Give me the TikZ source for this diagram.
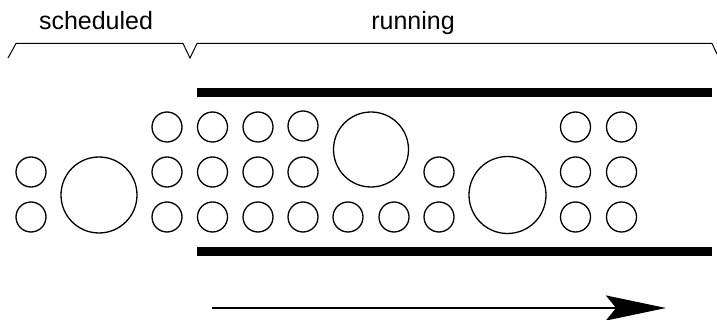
\documentclass[tikz,border=0pt]{standalone}
\usepackage{fontspec}
\setmainfont{Liberation Sans}
\usetikzlibrary{arrows.meta}
\begin{document}
\begin{tikzpicture}[x=1pt,y=-1pt,line join=miter]
  \useasboundingbox (0,0) rectangle (717,320);
  \coordinate (S) at (212,308);
  \coordinate (E) at (666,308);
  \draw[line width=1pt] (8,58) -- (16,43.5) -- (183,43.5) -- (190,58) -- (197,43.5) -- (712,43.5) -- (719,58);
  \node[anchor=base,inner sep=0pt,font=\fontsize{25}{30}\selectfont] (sched) at (96,30) {scheduled};
  \node[anchor=base,inner sep=0pt,font=\fontsize{25}{30}\selectfont] (run) at (413,30) {running};
  \fill (197,88) rectangle (712,97);
  \fill (197,247) rectangle (712,256);
  \foreach \x/\y in {31/172,31/217,
      167/127,167/172,167/217,212.5/127,212.5/172,212.5/217,
      258/127,258/172,258/217,303/126,303/172,303/217,
      348/217,394/217,439/172,439/217,
      575.5/127,575.5/172,575.5/217,621.5/127,621.5/172,621.5/217}
    \draw[line width=1.3pt] (\x,\y) circle (15pt);
  \draw[line width=1.3pt] (99,195) circle (38pt);
  \draw[line width=1.3pt] (371,149.5) circle (37.5pt);
  \draw[line width=1.3pt] (507.5,195) circle (38.5pt);
  \draw[line width=2.5pt,-{Stealth[length=60pt,width=25pt,inset=10pt]}] (S) -- (E);
\end{tikzpicture}
\end{document}
